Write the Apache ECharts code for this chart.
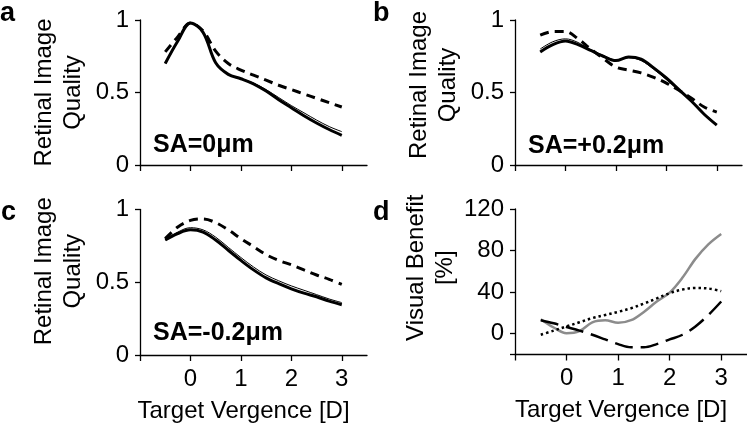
<!DOCTYPE html>
<html>
<head>
<meta charset="utf-8">
<script src="https://cdn.jsdelivr.net/npm/echarts@6/dist/echarts.min.js"></script>
<style>html,body{margin:0;padding:0;background:#fff}#c{width:747px;height:425px}</style>
</head>
<body>
<div id="c"></div>
<script>
// Target vergence [D]
var vergence = [-0.5, -0.25, 0, 0.25, 0.5, 0.75, 1.0, 1.25, 1.5, 1.75, 2.0, 2.25, 2.5, 2.75, 3.0];

// Panel a: SA = 0 µm
var aThick  = [0.70, 0.855, 0.98, 0.915, 0.705, 0.625, 0.595, 0.56, 0.51, 0.45, 0.395, 0.34, 0.29, 0.245, 0.205];
var aThin   = [0.70, 0.855, 0.98, 0.915, 0.705, 0.625, 0.597, 0.565, 0.52, 0.465, 0.41, 0.36, 0.31, 0.265, 0.23];
var aDashed = [0.78, 0.885, 0.98, 0.925, 0.785, 0.70, 0.655, 0.62, 0.585, 0.55, 0.52, 0.49, 0.46, 0.43, 0.40];

// Panel b: SA = +0.2 µm
var bThick  = [0.78, 0.83, 0.855, 0.83, 0.79, 0.75, 0.72, 0.745, 0.73, 0.67, 0.60, 0.52, 0.44, 0.35, 0.275];
var bThin   = [0.80, 0.85, 0.87, 0.845, 0.795, 0.755, 0.725, 0.74, 0.72, 0.66, 0.59, 0.515, 0.44, 0.355, 0.28];
var bDashed = [0.895, 0.92, 0.92, 0.87, 0.80, 0.735, 0.675, 0.655, 0.635, 0.605, 0.565, 0.515, 0.46, 0.40, 0.365];

// Panel c: SA = -0.2 µm
var cThick  = [0.79, 0.835, 0.86, 0.845, 0.79, 0.72, 0.65, 0.585, 0.53, 0.49, 0.455, 0.425, 0.40, 0.37, 0.345];
var cThin   = [0.79, 0.845, 0.875, 0.86, 0.81, 0.74, 0.67, 0.605, 0.55, 0.51, 0.475, 0.445, 0.415, 0.385, 0.36];
var cDashed = [0.80, 0.88, 0.925, 0.935, 0.91, 0.86, 0.80, 0.745, 0.69, 0.65, 0.62, 0.585, 0.55, 0.52, 0.485];

// Panel d: visual benefit [%]
var dGray   = [14, 6, 0.5, 2.5, 11, 13, 10.5, 13, 21, 31, 39.5, 54, 72, 86, 96];
var dDotted = [-1, 3, 7, 11, 15, 18, 21, 24.5, 29, 34, 39, 42.5, 44, 43.5, 41];
var dDashed = [13, 10, 6.5, 3, -1, -5.5, -10, -13, -13, -10, -5.5, -1, 7, 18, 31];

// Axis ticks / labels
var xTicks = [-1, 0, 1, 2, 3];
var xLabels = [0, 1, 2, 3];
var rqTicks = [0, 0.5, 1];
var vbTicks = [-20, 0, 40, 80, 120];
var vbLabels = [0, 40, 80, 120];

var FONT = "'Liberation Sans', Arial, sans-serif";

function pts(arr) { return vergence.map(function (x, i) { return [x, arr[i]]; }); }

var axisLineStyle = { color: '#000', width: 1.3 };

function xAxis(idx, showLabels) {
  return {
    gridIndex: idx, type: 'value', min: -1, max: 3.5, interval: 1,
    axisLine: { show: true, onZero: false, lineStyle: axisLineStyle },
    axisTick: { show: true, length: 6, customValues: xTicks, lineStyle: axisLineStyle },
    axisLabel: { show: showLabels, customValues: xLabels, margin: 12, fontSize: 24, color: '#000', fontFamily: FONT },
    splitLine: { show: false },
    name: showLabels ? 'Target Vergence [D]' : '',
    nameLocation: 'middle', nameGap: 44,
    nameTextStyle: { fontSize: 24, color: '#000', fontFamily: FONT, padding: [0, 20, 0, 0] }
  };
}

function yAxis(idx, min, max, ticks, labels, name, padL) {
  return {
    gridIndex: idx, type: 'value', min: min, max: max,
    axisLine: { show: true, onZero: false, lineStyle: axisLineStyle },
    axisTick: { show: true, length: 5, customValues: ticks, lineStyle: axisLineStyle },
    axisLabel: { show: true, customValues: labels, margin: 11, fontSize: 24, color: '#000', fontFamily: FONT },
    splitLine: { show: false },
    name: name, nameLocation: 'middle', nameRotate: 90, nameGap: 52,
    nameTextStyle: { fontSize: 24, lineHeight: 29, color: '#000', fontFamily: FONT, padding: [0, 0, 0, padL] }
  };
}

function line(idx, arr, color, width, type) {
  return {
    type: 'line', xAxisIndex: idx, yAxisIndex: idx, data: pts(arr),
    smooth: 0.35, symbol: 'none', silent: true,
    lineStyle: { color: color, width: width, type: type }
  };
}

var chart = echarts.init(document.getElementById('c'), null, { renderer: 'canvas' });
chart.setOption({
  animation: false,
  backgroundColor: '#fff',
  grid: [
    { left: 140, top: 20, width: 227, height: 145, containLabel: false, outerBoundsMode: 'none' },
    { left: 515, top: 20, width: 227, height: 145, containLabel: false, outerBoundsMode: 'none' },
    { left: 140, top: 209.5, width: 227, height: 145.5, containLabel: false, outerBoundsMode: 'none' },
    { left: 515, top: 209, width: 232, height: 145.5, containLabel: false, outerBoundsMode: 'none' }
  ],
  xAxis: [xAxis(0, false), xAxis(1, false), xAxis(2, true), xAxis(3, true)],
  yAxis: [
    yAxis(0, 0, 1, rqTicks, rqTicks, 'Retinal Image\nQuality', 0),
    yAxis(1, 0, 1, rqTicks, rqTicks, 'Retinal Image\nQuality', 15),
    yAxis(2, 0, 1, rqTicks, rqTicks, 'Retinal Image\nQuality', 22),
    yAxis(3, -20, 120, vbTicks, vbLabels, 'Visual Benefit\n[%]', 28)
  ],
  series: [
    line(0, aDashed, '#000', 3, [9, 6]),
    line(0, aThick, '#000', 3, 'solid'),
    line(0, aThin, '#000', 1, 'solid'),
    line(1, bDashed, '#000', 3, [9, 6]),
    line(1, bThick, '#000', 3, 'solid'),
    line(1, bThin, '#000', 1, 'solid'),
    line(2, cDashed, '#000', 3, [9, 6]),
    line(2, cThick, '#000', 3, 'solid'),
    line(2, cThin, '#000', 1, 'solid'),
    line(3, dGray, '#8c8c8c', 2.5, 'solid'),
    line(3, dDotted, '#000', 2.5, [2.5, 3]),
    line(3, dDashed, '#000', 2.5, [18, 8])
  ],
  graphic: [
    { type: 'text', left: 0, top: 0, style: { text: 'a', x: 1, y: 14, fontSize: 27, fontWeight: 'bold', fontFamily: FONT, fill: '#000', verticalAlign: 'middle' } },
    { type: 'text', style: { text: 'b', x: 373, y: 14, fontSize: 27, fontWeight: 'bold', fontFamily: FONT, fill: '#000', verticalAlign: 'middle' } },
    { type: 'text', style: { text: 'c', x: 1, y: 213, fontSize: 27, fontWeight: 'bold', fontFamily: FONT, fill: '#000', verticalAlign: 'middle' } },
    { type: 'text', style: { text: 'd', x: 373, y: 213, fontSize: 27, fontWeight: 'bold', fontFamily: FONT, fill: '#000', verticalAlign: 'middle' } },
    { type: 'text', style: { text: 'SA=0μm', x: 153, y: 145, fontSize: 25, fontWeight: 'bold', fontFamily: FONT, fill: '#000', verticalAlign: 'middle' } },
    { type: 'text', style: { text: 'SA=+0.2μm', x: 528, y: 146, fontSize: 25, fontWeight: 'bold', fontFamily: FONT, fill: '#000', verticalAlign: 'middle' } },
    { type: 'text', style: { text: 'SA=-0.2μm', x: 153, y: 333, fontSize: 25, fontWeight: 'bold', fontFamily: FONT, fill: '#000', verticalAlign: 'middle' } }
  ]
});
</script>
</body>
</html>
